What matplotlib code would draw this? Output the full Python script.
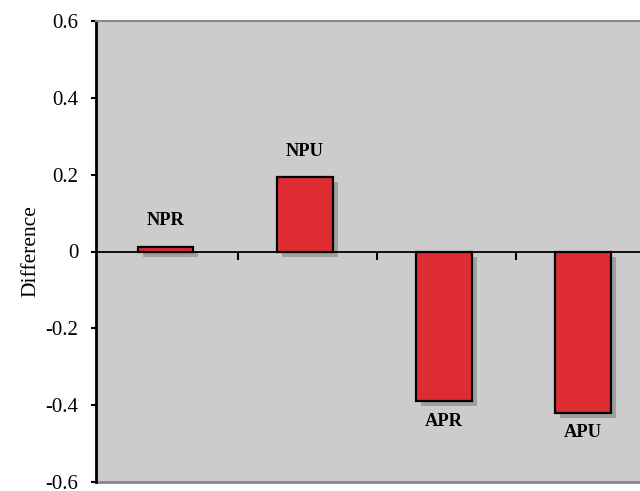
import matplotlib
matplotlib.use("Agg")
import matplotlib.pyplot as plt
import matplotlib.patheffects as pe

categories = ["NPR", "NPU", "APR", "APU"]
values = [0.013, 0.193, -0.39, -0.42]
yticks = [-0.6, -0.4, -0.2, 0, 0.2, 0.4, 0.6]
ytick_labels = ["-0.6", "-0.4", "-0.2", "0", "0.2", "0.4", "0.6"]

plt.rcParams['font.family'] = ['Liberation Serif', 'DejaVu Serif']

fig = plt.figure(figsize=(6.4, 4.91), dpi=100)
ax = fig.add_axes([96/640, 1-482/491, 1-96/640, (482-21)/491])
ax.set_facecolor('#cccccc')

x = list(range(len(categories)))
shadow = [pe.SimplePatchShadow(offset=(3.6, -3.6), shadow_rgbFace='#a0a0a0', alpha=1.0), pe.Normal()]
bars = ax.bar(x, values, width=0.4, color='#de2c33', edgecolor='black', linewidth=1.6, zorder=3)
for b in bars:
    b.set_path_effects(shadow)

for xi, v, c in zip(x, values, categories):
    off = 18.7 if v >= 0 else -14.4
    ax.annotate(c, (xi, v), xytext=(0, off), textcoords='offset points',
                ha='center', va='center', fontsize=13.3, fontweight='bold', zorder=5)

ax.set_xlim(-0.5, 3.41)
ax.set_ylim(-0.6, 0.6)
ax.set_yticks(yticks)
ax.set_yticklabels(ytick_labels, fontsize=15)
ax.tick_params(axis='y', direction='out', length=3.6, width=1.5, pad=9)

ax.spines['bottom'].set_position(('data', 0))
ax.spines['bottom'].set_color('black')
ax.spines['bottom'].set_linewidth(1.3)
ax.spines['bottom'].set_zorder(4)
ax.set_xticks([0.52, 1.52, 2.52])
ax.set_xticklabels([])
ax.tick_params(axis='x', direction='out', length=5.5, width=1.5)
ax.spines['left'].set_linewidth(2)
ax.spines['left'].set_color('black')
ax.spines['right'].set_visible(False)
ax.spines['top'].set_color('#888888')
ax.spines['top'].set_linewidth(1.5)
ax.axhline(-0.6, color='#888888', linewidth=2, clip_on=False, zorder=2)

ax.set_ylabel("Difference", fontsize=15.5, labelpad=4)

fig.savefig("out.png", dpi=100)
